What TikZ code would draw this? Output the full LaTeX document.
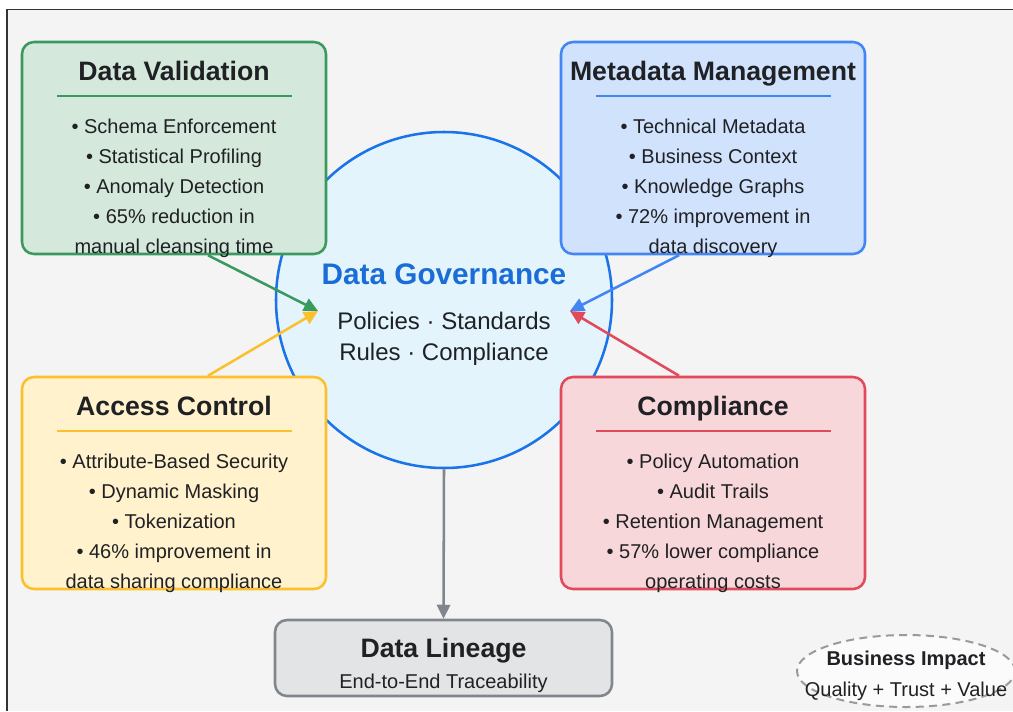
\documentclass[tikz,border=0pt]{standalone}
\usepackage{fontspec}
\setmainfont{Liberation Sans}
\usetikzlibrary{arrows.meta,shapes.geometric}

\definecolor{pagebg}{HTML}{F4F4F4}
\definecolor{framec}{HTML}{333333}
\definecolor{inkc}{HTML}{202124}
\definecolor{govfill}{HTML}{E3F4FD}
\definecolor{govline}{HTML}{1A73E8}
\definecolor{govtext}{HTML}{1A6DD6}
\definecolor{valfill}{HTML}{D4E8DC}
\definecolor{valline}{HTML}{3A9A5E}
\definecolor{metafill}{HTML}{D0E2FC}
\definecolor{metaline}{HTML}{4285F4}
\definecolor{accfill}{HTML}{FFF2CC}
\definecolor{accline}{HTML}{FBC02D}
\definecolor{compfill}{HTML}{F8D7DA}
\definecolor{compline}{HTML}{E04A5A}
\definecolor{linfill}{HTML}{E3E4E6}
\definecolor{linline}{HTML}{80868B}
\definecolor{impline}{HTML}{9A9A9A}

\tikzset{
  panel/.style={rectangle, rounded corners=9pt, line width=1.9pt,
    minimum width=228pt, minimum height=159pt, inner sep=0pt},
  ptitle/.style={anchor=base, inner sep=0pt, text=inkc,
    font=\fontsize{20}{24}\selectfont\bfseries},
  pitem/.style={anchor=base, inner sep=0pt, text=inkc,
    font=\fontsize{15}{18}\selectfont},
  sepline/.style={line width=0.9pt},
  flow/.style={line width=1.9pt, -{Triangle[length=10.5pt,width=10pt]}},
}

\begin{document}
\begin{tikzpicture}[x=0.75pt,y=-0.75pt]
\useasboundingbox (0,0) rectangle (1013,711);
\fill[white] (0,0) rectangle (1013,711);
\fill[pagebg] (7,9.5) rectangle (1013,711);
\draw[framec, line width=1.1pt] (7,711) -- (7,9.5) -- (1013,9.5);

% central governance circle
\node[circle, draw=govline, fill=govfill, line width=1.9pt,
      minimum size=252pt, inner sep=0pt] (gov) at (444,300) {};
\node[anchor=base, inner sep=0pt, text=govtext,
      font=\fontsize{22.3}{26}\selectfont\bfseries] (govT) at (444,284) {Data Governance};
\node[anchor=base, inner sep=0pt, text=inkc,
      font=\fontsize{18}{22}\selectfont] (govA) at (444,329) {Policies · Standards};
\node[anchor=base, inner sep=0pt, text=inkc,
      font=\fontsize{18}{22}\selectfont] (govB) at (444,360) {Rules · Compliance};

% Data Validation
\begin{scope}[shift={(22,42)}]
  \node[panel, draw=valline, fill=valfill] (val) at (152,106) {};
  \node[ptitle] (valT) at (152,38) {Data Validation};
  \draw[sepline, valline] (35,54) -- (270,54);
  \node[pitem] (val1) at (152,91) {• Schema Enforcement};
  \node[pitem] (val2) at (152,121) {• Statistical Profiling};
  \node[pitem] (val3) at (152,151) {• Anomaly Detection};
  \node[pitem] (val4) at (152,181) {• 65\% reduction in};
  \node[pitem] (val5) at (152,211) {manual cleansing time};
\end{scope}

% Metadata Management
\begin{scope}[shift={(561,42)}]
  \node[panel, draw=metaline, fill=metafill] (meta) at (152,106) {};
  \node[ptitle] (metaT) at (152,38) {Metadata Management};
  \draw[sepline, metaline] (35,54) -- (270,54);
  \node[pitem] (meta1) at (152,91) {• Technical Metadata};
  \node[pitem] (meta2) at (152,121) {• Business Context};
  \node[pitem] (meta3) at (152,151) {• Knowledge Graphs};
  \node[pitem] (meta4) at (152,181) {• 72\% improvement in};
  \node[pitem] (meta5) at (152,211) {data discovery};
\end{scope}

% Access Control
\begin{scope}[shift={(22,377)}]
  \node[panel, draw=accline, fill=accfill] (acc) at (152,106) {};
  \node[ptitle] (accT) at (152,38) {Access Control};
  \draw[sepline, accline] (35,54) -- (270,54);
  \node[pitem] (acc1) at (152,91) {• Attribute-Based Security};
  \node[pitem] (acc2) at (152,121) {• Dynamic Masking};
  \node[pitem] (acc3) at (152,151) {• Tokenization};
  \node[pitem] (acc4) at (152,181) {• 46\% improvement in};
  \node[pitem] (acc5) at (152,211) {data sharing compliance};
\end{scope}

% Compliance
\begin{scope}[shift={(561,377)}]
  \node[panel, draw=compline, fill=compfill] (comp) at (152,106) {};
  \node[ptitle] (compT) at (152,38) {Compliance};
  \draw[sepline, compline] (35,54) -- (270,54);
  \node[pitem] (comp1) at (152,91) {• Policy Automation};
  \node[pitem] (comp2) at (152,121) {• Audit Trails};
  \node[pitem] (comp3) at (152,151) {• Retention Management};
  \node[pitem] (comp4) at (152,181) {• 57\% lower compliance};
  \node[pitem] (comp5) at (152,211) {operating costs};
\end{scope}

% Data Lineage
\node[rectangle, rounded corners=9pt, draw=linline, fill=linfill, line width=1.9pt,
      minimum width=252.75pt, minimum height=57pt, inner sep=0pt] (lin) at (443.5,658) {};
\node[ptitle] (linT) at (443.5,657) {Data Lineage};
\node[pitem] (linS) at (443.5,688) {End-to-End Traceability};

% Business impact badge
\node[ellipse, draw=impline, fill=white!60!pagebg, line width=1.5pt,
      dash pattern=on 6pt off 4pt, minimum width=163.5pt, minimum height=54pt,
      inner sep=0pt] (imp) at (906,671) {};
\node[pitem, font=\fontsize{15}{18}\selectfont\bfseries] (impT) at (906,665) {Business Impact};
\node[pitem] (impS) at (906,696) {Quality + Trust + Value};

% flows into governance
\coordinate (inL) at (318,311);
\coordinate (inR) at (570,311);
\draw[flow, valline]  ([xshift=25.5pt]val.south)  -- (inL);
\draw[flow, accline]  ([xshift=25.5pt]acc.north)  -- (inL);
\draw[flow, metaline] ([xshift=-25.5pt]meta.south) -- (inR);
\draw[flow, compline] ([xshift=-25.5pt]comp.north) -- (inR);
\draw[flow, linline]  (gov.south) -- (lin.north);
\end{tikzpicture}
\end{document}
